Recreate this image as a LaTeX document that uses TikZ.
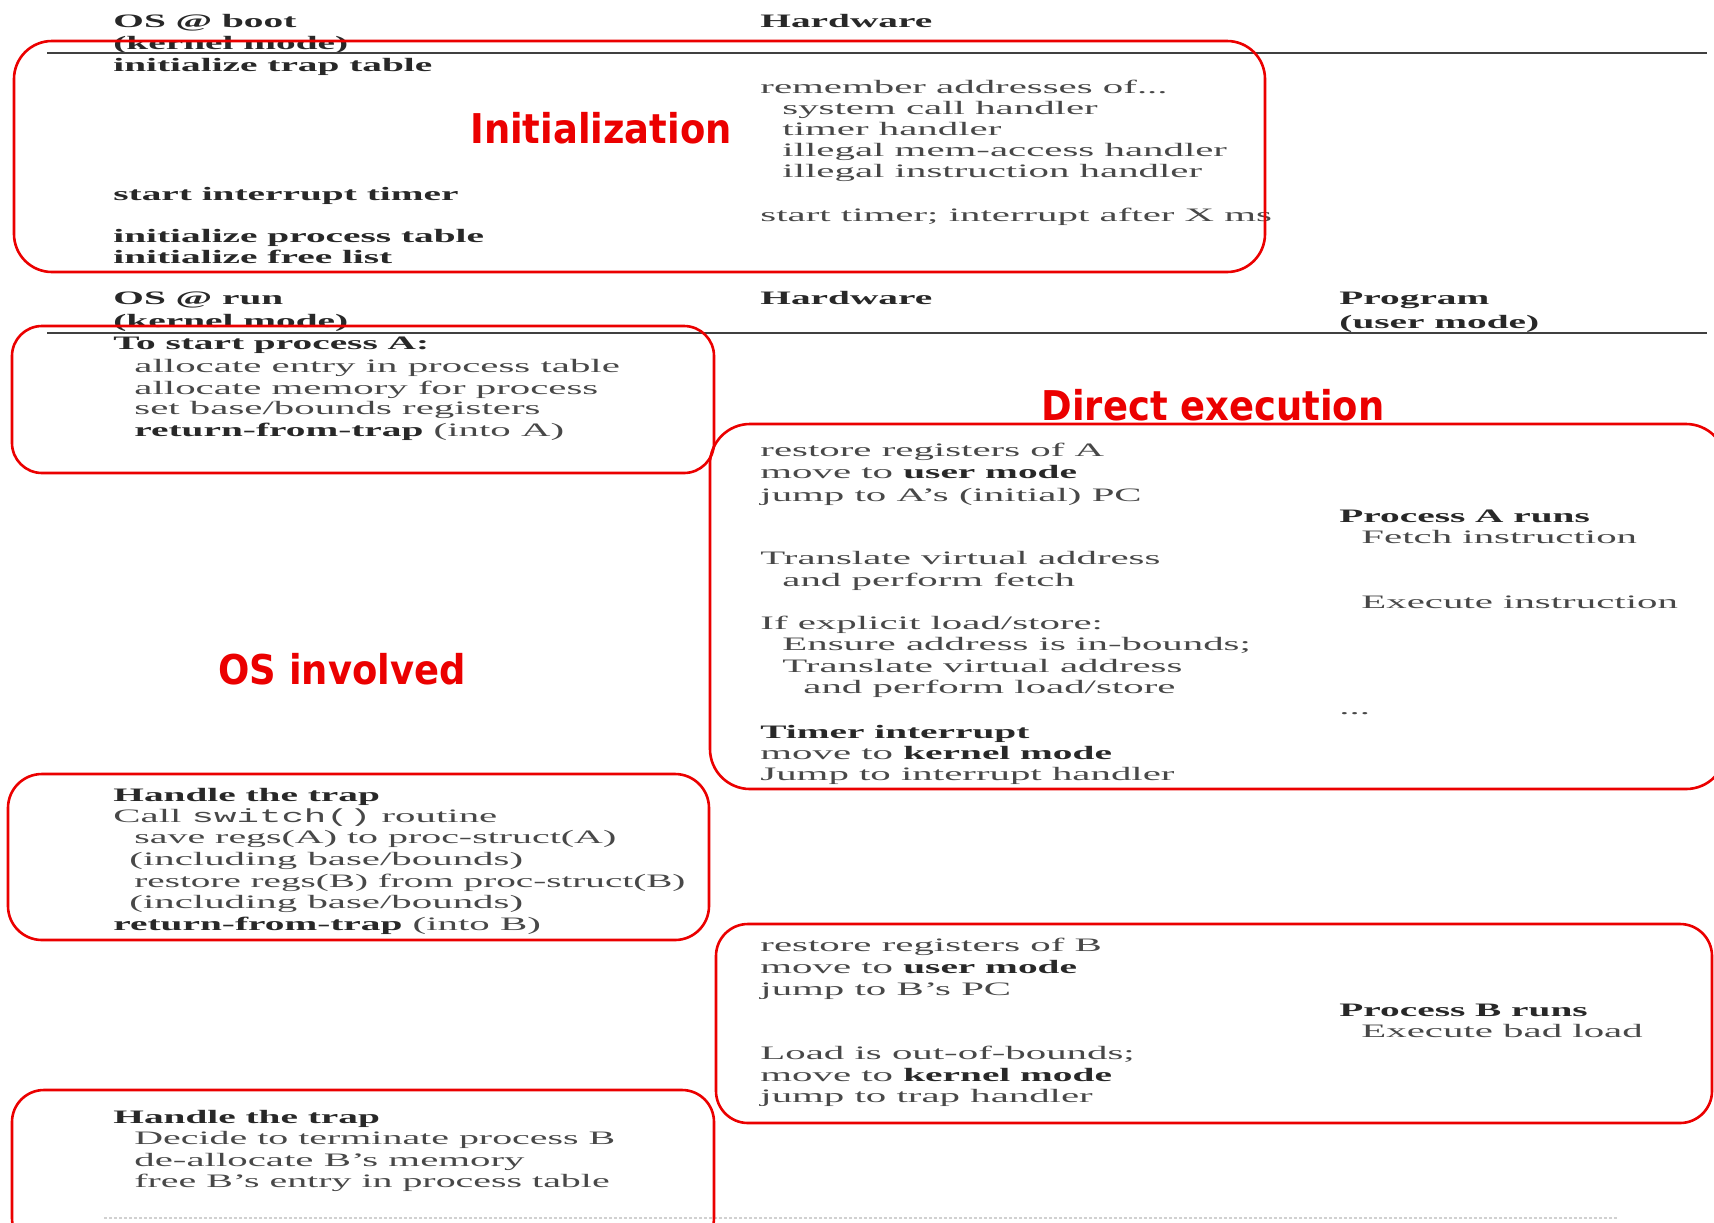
\documentclass[tikz,border=0pt]{standalone}
\usepackage{fontspec}
\setmainfont{Liberation Serif}[FakeStretch=2.15, BoldFeatures={FakeStretch=2.07}]
\setmonofont{Liberation Mono}[FakeStretch=1.97]
\newfontfamily\lblfont{DejaVu Sans}[FakeStretch=0.9]
\definecolor{txtgray}{RGB}{72,72,72}
\definecolor{bdgray}{RGB}{40,40,40}
\definecolor{boxred}{RGB}{235,0,0}
\newcommand\bd[1]{\textcolor{bdgray}{\bfseries #1}}
\newcommand\tighter{\addfontfeature{FakeStretch=2.1}}
\tikzset{
  txt/.style={anchor=base west, inner sep=0pt, text=txtgray,
    font=\fontsize{9.5}{11}\selectfont},
  hdr/.style={txt, text=bdgray, font=\fontsize{9.5}{11}\selectfont\bfseries},
  lbl/.style={inner sep=0pt, text=boxred,
    font=\lblfont\bfseries\fontsize{20.5}{24}\selectfont},
  redbox/.style={draw=boxred, line width=1.3pt},
  rule/.style={draw=black!75, line width=0.8pt}
}
\begin{document}
\begin{tikzpicture}[x=0.5pt,y=-0.5pt]
\useasboundingbox (0,0) rectangle (1714,1222);
\clip (0,0) rectangle (1714,1222);
\fill[white] (0,0) rectangle (1714,1222);

% ---- boot phase table
\node[hdr] (bootos) at (113,27) {OS @ boot};
\node[hdr] (bootkm) at (113,49) {(kernel mode)};
\node[hdr] (boothw) at (760,27) {Hardware};
\draw[rule] (47,53) -- (1707,53);
\node[hdr] (b1) at (113,71) {initialize trap table};
\node[txt] (h1) at (760,93) {remember addresses of...};
\node[txt] (h2) at (782,114) {system call handler};
\node[txt] (h3) at (782,135) {timer handler};
\node[txt] (h4) at (782,156) {illegal mem-access handler};
\node[txt] (h5) at (782,177) {illegal instruction handler};
\node[hdr] (b2) at (113,200) {start interrupt timer};
\node[txt] (h6) at (760,221) {start timer; interrupt after X ms};
\node[hdr] (b3) at (113,242) {initialize process table};
\node[hdr] (b4) at (113,263) {initialize free list};

% ---- run phase table
\node[hdr] (runos) at (113,304) {OS @ run};
\node[hdr] (runkm) at (113,327) {(kernel mode)};
\node[hdr] (runhw) at (760,304) {Hardware};
\node[hdr] (runpg) at (1339,304) {Program};
\node[hdr] (runum) at (1339,328) {(user mode)};
\draw[rule] (47,333) -- (1707,333);

\node[hdr] (a1) at (113,349) {To start process A:};
\node[txt] (a2) at (134,372) {allocate entry in process table};
\node[txt] (a3) at (134,394) {allocate memory for process};
\node[txt] (a4) at (134,414) {set base/bounds registers};
\node[txt] (a5) at (134,436) {\bd{return-from-trap} (into A)};

\node[txt] (d1) at (760,456) {restore registers of A};
\node[txt] (d2) at (760,478) {move to \bd{user mode}};
\node[txt] (d3) at (760,501) {jump to A’s (initial) PC};
\node[hdr] (p1) at (1339,522) {Process A runs};
\node[txt] (p2) at (1361,543) {Fetch instruction};
\node[txt] (d4) at (760,564) {Translate virtual address};
\node[txt] (d5) at (782,586) {and perform fetch};
\node[txt] (p3) at (1361,608) {Execute instruction};
\node[txt] (d6) at (760,629) {If explicit load/store:};
\node[txt] (d7) at (782,650) {Ensure address is in-bounds;};
\node[txt] (d8) at (782,672) {Translate virtual address};
\node[txt] (d9) at (803,693) {and perform load/store};
\node[txt] (p4) at (1339,714) {...};
\node[hdr] (d10) at (760,738) {Timer interrupt};
\node[txt] (d11) at (760,759) {move to \bd{kernel mode}};
\node[txt] (d12) at (760,780) {Jump to interrupt handler};

\node[hdr] (s1) at (113,801) {Handle the trap};
\node[txt] (s2) at (113,822) {Call \texttt{switch()} routine};
\node[txt] (s3) at (134,843) {\tighter save regs(A) to proc-struct(A)};
\node[txt] (s4) at (129,865) {(including base/bounds)};
\node[txt] (s5) at (134,887) {\addfontfeature{FakeStretch=2.06}restore regs(B) from proc-struct(B)};
\node[txt] (s6) at (129,908) {(including base/bounds)};
\node[txt] (s7) at (113,930) {\bd{return-from-trap} (into B)};

\node[txt] (e1) at (760,951) {restore registers of B};
\node[txt] (e2) at (760,973) {move to \bd{user mode}};
\node[txt] (e3) at (760,995) {jump to B’s PC};
\node[hdr] (q1) at (1339,1016) {Process B runs};
\node[txt] (q2) at (1361,1037) {Execute bad load};
\node[txt] (e4) at (760,1059) {Load is out-of-bounds;};
\node[txt] (e5) at (760,1081) {move to \bd{kernel mode}};
\node[txt] (e6) at (760,1102) {jump to trap handler};

\node[hdr] (t1) at (113,1123) {Handle the trap};
\node[txt] (t2) at (134,1144) {\tighter Decide to terminate process B};
\node[txt] (t3) at (134,1166) {de-allocate B’s memory};
\node[txt] (t4) at (134,1187) {\tighter free B’s entry in process table};

\draw[black!18, line width=0.6pt, dash pattern=on 1.5pt off 1pt] (104,1218) -- (1617,1218);

% ---- highlighted groups
\draw[redbox, rounded corners=19pt] (14,41) rectangle (1265,272);
\draw[redbox, rounded corners=15pt] (12,326) rectangle (714,473);
\draw[redbox, rounded corners=20pt] (710,424) rectangle (1726,789);
\draw[redbox, rounded corners=17pt] (8,774) rectangle (709,940);
\draw[redbox, rounded corners=16pt] (716,924) rectangle (1712,1123);
\draw[redbox, rounded corners=16pt] (12,1090) rectangle (714,1250);

\node[lbl] (linit) at (601,128) {Initialization};
\node[lbl] (ldirect) at (1213,405) {Direct execution};
\node[lbl] (los) at (342,669) {OS involved};
\end{tikzpicture}
\end{document}
